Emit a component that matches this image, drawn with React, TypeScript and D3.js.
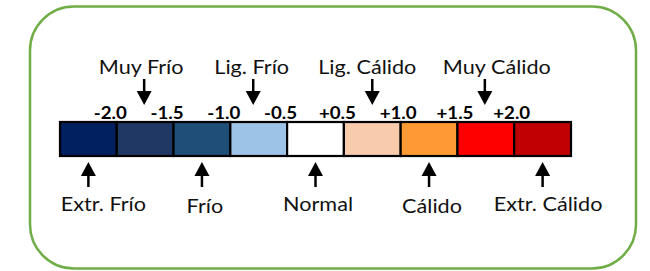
import { useEffect, useRef } from "react";
import * as d3 from "d3";

// categories of the anomaly scale, left to right
const CELL_COLORS = [
  "#002060",
  "#203864",
  "#1F4E79",
  "#9DC3E6",
  "#FFFFFF",
  "#F8CBAD",
  "#FF9933",
  "#FF0000",
  "#C00000",
];

// tick labels sit on the inner cell boundaries (1..8)
const TICK_LABELS = ["-2.0", "-1.5", "-1.0", "-0.5", "+0.5", "+1.0", "+1.5", "+2.0"];

// labels above the bar (point down into a cell)
const TOP_LABELS = ["Muy Frío", "Lig. Frío", "Lig. Cálido", "Muy Cálido"];
const TOP_CELLS = [1, 3, 5, 7];

// labels below the bar (point up into a cell)
const BOTTOM_LABELS = ["Extr. Frío", "Frío", "Normal", "Cálido", "Extr. Cálido"];
const BOTTOM_CELLS = [0, 2, 4, 6, 8];

const W = 650;
const H = 271;
const FONT = "Lato, 'Open Sans', sans-serif";
// the original text is a little wide for its height
const STRETCH = 1.17;

export default function App() {
  const ref = useRef<SVGSVGElement | null>(null);

  useEffect(() => {
    const el = ref.current;
    if (!el) return;
    const svg = d3.select(el);
    svg.selectAll("*").remove();

    // green rounded frame
    svg
      .append("rect")
      .attr("x", 30)
      .attr("y", 6.5)
      .attr("width", 606)
      .attr("height", 262)
      .attr("rx", 44)
      .attr("ry", 44)
      .attr("fill", "#fff")
      .attr("stroke", "#70AD47")
      .attr("stroke-width", 2.5);

    const barTop = 122;
    const barH = 34;
    const x = d3
      .scaleBand<number>()
      .domain(d3.range(CELL_COLORS.length))
      .range([60, 571])
      .paddingInner(0)
      .paddingOuter(0);
    const bw = x.bandwidth();
    const cx = (i: number) => (x(i) ?? 0) + bw / 2;

    svg
      .append("g")
      .selectAll("rect")
      .data(CELL_COLORS)
      .join("rect")
      .attr("x", (_, i) => x(i) ?? 0)
      .attr("y", barTop)
      .attr("width", bw)
      .attr("height", barH)
      .attr("fill", (d) => d)
      .attr("stroke", "#000")
      .attr("stroke-width", 2.2);

    // boundary ticks, bold, slightly left of each boundary
    svg
      .append("g")
      .selectAll("text")
      .data(TICK_LABELS)
      .join("text")
      .attr(
        "transform",
        (_, i) => `translate(${(x(i + 1) ?? 0) + (i < 5 ? -6.5 : -2.5)},119) scale(1.1,1)`
      )
      .attr("text-anchor", "middle")
      .attr("font-family", FONT)
      .attr("font-weight", 700)
      .attr("font-size", 17)
      .attr("fill", "#000")
      .text((d) => d);

    const arrow = (
      g: d3.Selection<SVGGElement, unknown, null, undefined>,
      xc: number,
      tip: number,
      base: number
    ) => {
      const dir = Math.sign(base - tip); // +1: pointing up, -1: pointing down
      const headLen = 14;
      const headHalf = 7.5;
      const neck = tip + dir * headLen;
      g.append("line")
        .attr("x1", xc)
        .attr("x2", xc)
        .attr("y1", neck)
        .attr("y2", base)
        .attr("stroke", "#000")
        .attr("stroke-width", 2.5);
      g.append("path")
        .attr("d", `M${xc},${tip} L${xc - headHalf},${neck} L${xc + headHalf},${neck} Z`)
        .attr("fill", "#000");
    };

    const topG = svg.append("g");
    const topArrowDx = [-1, -5.5, 0, -1];
    TOP_CELLS.forEach((c, i) => arrow(topG, cx(c) + topArrowDx[i], 105, 79));
    const topDx = [-4, -7, -5, 11];
    topG
      .selectAll("text")
      .data(TOP_LABELS)
      .join("text")
      .attr(
        "transform",
        (_, i) => `translate(${cx(TOP_CELLS[i]) + topDx[i]},74) scale(${STRETCH},1)`
      )
      .attr("text-anchor", "middle")
      .attr("font-family", FONT)
      .attr("font-size", 18.5)
      .attr("fill", "#111")
      .text((d) => d);

    const botG = svg.append("g");
    BOTTOM_CELLS.forEach((c) => arrow(botG, cx(c), 162, 187));
    const botDx = [15, 3, 2.5, 3, 5.5];
    const botDy = [0, 1.5, 0, 1.5, 0];
    botG
      .selectAll("text")
      .data(BOTTOM_LABELS)
      .join("text")
      .attr(
        "transform",
        (_, i) =>
          `translate(${cx(BOTTOM_CELLS[i]) + botDx[i]},${211 + botDy[i]}) scale(${STRETCH},1)`
      )
      .attr("text-anchor", "middle")
      .attr("font-family", FONT)
      .attr("font-size", 18.5)
      .attr("fill", "#111")
      .text((d) => d);
  }, []);

  return (
    <svg
      ref={ref}
      width={W}
      height={H}
      viewBox={`0 0 ${W} ${H}`}
      style={{ position: "absolute", left: 0, top: 0, display: "block" }}
    />
  );
}
